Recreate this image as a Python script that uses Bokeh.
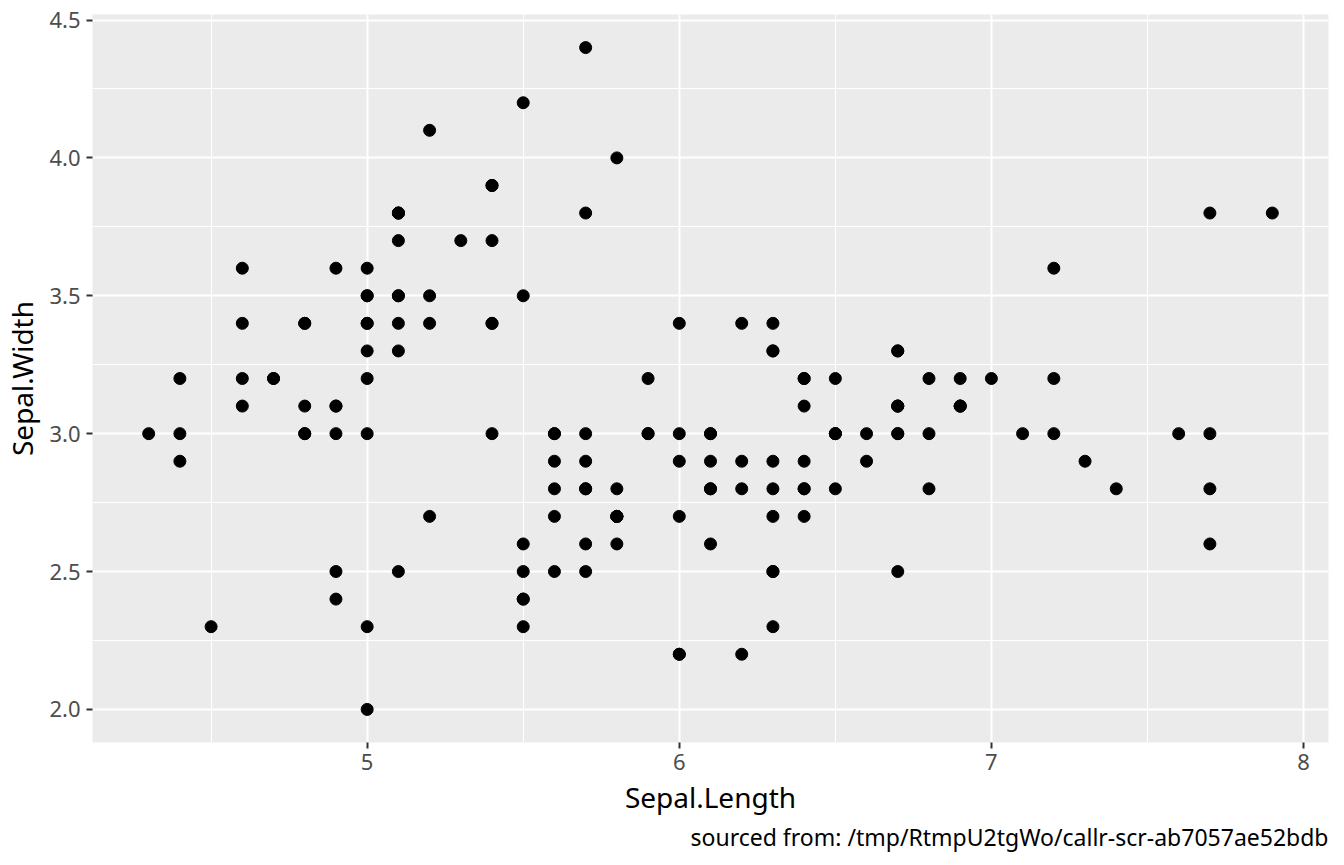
from bokeh.plotting import figure
from bokeh.models import Range1d, FixedTicker, Title
from bokeh.embed import file_html
from bokeh.resources import INLINE

sepal_length = [5.1,4.9,4.7,4.6,5.0,5.4,4.6,5.0,4.4,4.9,5.4,4.8,4.8,4.3,5.8,5.7,5.4,5.1,5.7,5.1,5.4,5.1,4.6,5.1,4.8,5.0,5.0,5.2,5.2,4.7,4.8,5.4,5.2,5.5,4.9,5.0,5.5,4.9,4.4,5.1,5.0,4.5,4.4,5.0,5.1,4.8,5.1,4.6,5.3,5.0,
7.0,6.4,6.9,5.5,6.5,5.7,6.3,4.9,6.6,5.2,5.0,5.9,6.0,6.1,5.6,6.7,5.6,5.8,6.2,5.6,5.9,6.1,6.3,6.1,6.4,6.6,6.8,6.7,6.0,5.7,5.5,5.5,5.8,6.0,5.4,6.0,6.7,6.3,5.6,5.5,5.5,6.1,5.8,5.0,5.6,5.7,5.7,6.2,5.1,5.7,
6.3,5.8,7.1,6.3,6.5,7.6,4.9,7.3,6.7,7.2,6.5,6.4,6.8,5.7,5.8,6.4,6.5,7.7,7.7,6.0,6.9,5.6,7.7,6.3,6.7,7.2,6.2,6.1,6.4,7.2,7.4,7.9,6.4,6.3,6.1,7.7,6.3,6.4,6.0,6.9,6.7,6.9,5.8,6.8,6.7,6.7,6.3,6.5,6.2,5.9]

sepal_width = [3.5,3.0,3.2,3.1,3.6,3.9,3.4,3.4,2.9,3.1,3.7,3.4,3.0,3.0,4.0,4.4,3.9,3.5,3.8,3.8,3.4,3.7,3.6,3.3,3.4,3.0,3.4,3.5,3.4,3.2,3.1,3.4,4.1,4.2,3.1,3.2,3.5,3.6,3.0,3.4,3.5,2.3,3.2,3.5,3.8,3.0,3.8,3.2,3.7,3.3,
3.2,3.2,3.1,2.3,2.8,2.8,3.3,2.4,2.9,2.7,2.0,3.0,2.2,2.9,2.9,3.1,3.0,2.7,2.2,2.5,3.2,2.8,2.5,2.8,2.9,3.0,2.8,3.0,2.9,2.6,2.4,2.4,2.7,2.7,3.0,3.4,3.1,2.3,3.0,2.5,2.6,3.0,2.6,2.3,2.7,3.0,2.9,2.9,2.5,2.8,
3.3,2.7,3.0,2.9,3.0,3.0,2.5,2.9,2.5,3.6,3.2,2.7,3.0,2.5,2.8,3.2,3.0,3.8,2.6,2.2,3.2,2.8,2.8,2.7,3.3,3.2,2.8,3.0,2.8,3.0,2.8,3.8,2.8,2.8,2.6,3.0,3.4,3.1,3.0,3.1,3.1,3.1,2.7,3.2,3.3,3.0,2.5,3.0,3.4,3.0]

x_ticks = [5, 6, 7, 8]
x_minor = [4.5, 5.5, 6.5, 7.5]
y_ticks = [2.0, 2.5, 3.0, 3.5, 4.0, 4.5]
y_minor = [2.25, 2.75, 3.25, 3.75, 4.25]
caption = "sourced from: /tmp/RtmpU2tgWo/callr-scr-ab7057ae52bdb"

FONT = "Noto Sans"

p = figure(width=1335, height=852, output_backend="svg", toolbar_location=None,
           x_range=Range1d(4.12, 8.08), y_range=Range1d(1.88, 4.52),
           min_border_left=92, min_border_right=7, min_border_top=14, min_border_bottom=4)

p.background_fill_color = "#EBEBEB"
p.border_fill_color = "white"
p.outline_line_color = None

p.xaxis.ticker = FixedTicker(ticks=x_ticks, minor_ticks=x_minor)
p.yaxis.ticker = FixedTicker(ticks=y_ticks, minor_ticks=y_minor)
p.yaxis.major_label_overrides = {v: f"{v:.1f}" for v in y_ticks}

for ax in (p.xaxis, p.yaxis):
    ax.axis_line_color = None
    ax.major_tick_line_color = "#333333"
    ax.major_tick_line_width = 2
    ax.major_tick_in = 0
    ax.major_tick_out = 6
    ax.minor_tick_line_color = None
    ax.major_label_text_color = "#4D4D4D"
    ax.major_label_text_font = FONT
    ax.major_label_text_font_size = "22px"
    ax.major_label_standoff = 5
    ax.axis_label_text_font = FONT
    ax.axis_label_text_font_size = "28px"
    ax.axis_label_text_font_style = "normal"
    ax.axis_label_text_color = "black"
    ax.axis_label_standoff = 5

p.xaxis.axis_label = "Sepal.Length"
p.yaxis.axis_label = "Sepal.Width"
p.yaxis.major_label_standoff = 6

for g in (p.xgrid, p.ygrid):
    g.grid_line_color = "white"
    g.grid_line_width = 2
    g.minor_grid_line_color = "white"
    g.minor_grid_line_width = 1

p.scatter(sepal_length, sepal_width, size=12, color="black")

cap = Title(text=caption, align="right", text_font=FONT, text_font_size="23px",
            text_font_style="normal", text_color="black", offset=0, standoff=0)
p.add_layout(cap, "below")

open("out.html", "w").write(file_html(p, INLINE))
